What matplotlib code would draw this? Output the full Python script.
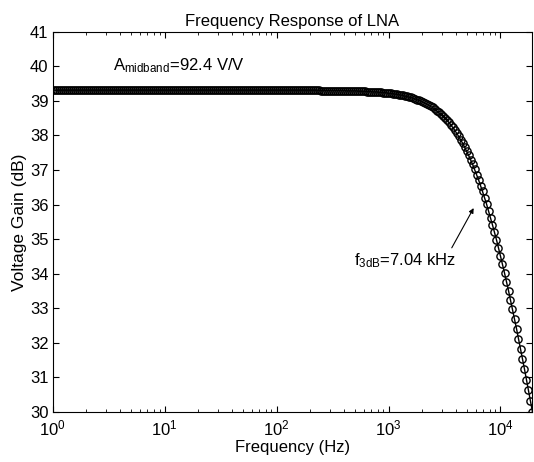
import matplotlib
matplotlib.use("Agg")
import matplotlib.pyplot as plt
from matplotlib.ticker import LogLocator, NullFormatter, MultipleLocator

plt.rcParams['font.family'] = ['Liberation Sans', 'DejaVu Sans']
plt.rcParams['mathtext.default'] = 'regular'

# sample points: 56 per decade (mantissas)
freq_mant = [1.000, 1.042, 1.086, 1.131, 1.179, 1.228, 1.280, 1.334, 1.390, 1.448,
             1.509, 1.572, 1.638, 1.707, 1.778, 1.853, 1.931, 2.012, 2.096, 2.184,
             2.276, 2.371, 2.471, 2.574, 2.683, 2.795, 2.913, 3.035, 3.162, 3.295,
             3.433, 3.577, 3.728, 3.884, 4.047, 4.217, 4.394, 4.578, 4.771, 4.971,
             5.179, 5.397, 5.623, 5.859, 6.105, 6.362, 6.629, 6.907, 7.197, 7.499,
             7.814, 8.142, 8.483, 8.839, 9.210, 9.597]
decades = [1, 10, 100, 1000, 10000]

# voltage gain (dB) per decade
gain_1_10 = [39.31] * 56
gain_10_100 = [39.31] * 56
gain_100_1k = [39.31, 39.31, 39.31, 39.31, 39.31, 39.31, 39.31, 39.31, 39.31, 39.31,
               39.31, 39.31, 39.31, 39.31, 39.31, 39.31, 39.31, 39.31, 39.31, 39.31,
               39.31, 39.31, 39.30, 39.30, 39.30, 39.30, 39.30, 39.30, 39.30, 39.30,
               39.30, 39.30, 39.30, 39.30, 39.30, 39.29, 39.29, 39.29, 39.29, 39.29,
               39.29, 39.28, 39.28, 39.28, 39.28, 39.27, 39.27, 39.27, 39.26, 39.26,
               39.26, 39.25, 39.25, 39.24, 39.24, 39.23]
gain_1k_10k = [39.22, 39.22, 39.21, 39.20, 39.19, 39.18, 39.17, 39.16, 39.14, 39.13,
               39.11, 39.10, 39.08, 39.06, 39.04, 39.02, 39.00, 38.97, 38.94, 38.91,
               38.88, 38.84, 38.81, 38.77, 38.72, 38.67, 38.62, 38.57, 38.51, 38.45,
               38.39, 38.31, 38.24, 38.16, 38.07, 37.98, 37.88, 37.78, 37.67, 37.55,
               37.43, 37.30, 37.17, 37.02, 36.87, 36.72, 36.55, 36.38, 36.20, 36.02,
               35.82, 35.62, 35.41, 35.20, 34.98, 34.75]
gain_10k_up = [34.51, 34.27, 34.02, 33.77, 33.51, 33.24, 32.97, 32.69, 32.41, 32.12,
               31.83, 31.54, 31.24, 30.93, 30.63, 30.32, 30.00]

gain = gain_1_10 + gain_10_100 + gain_100_1k + gain_1k_10k + gain_10k_up
freq = [m * d for d in decades for m in freq_mant][:len(gain)]

fig = plt.figure(figsize=(5.34, 4.62), dpi=100)
ax = fig.add_axes([0.0987, 0.1082, 0.897, 0.823])

ax.semilogx(freq, gain, '-', color='black', linewidth=1.0)
ax.semilogx(freq, gain, 'o', markerfacecolor='none', markeredgecolor='black',
            markersize=5.2, markeredgewidth=1.0)

ax.set_xlim(1, 1.9e4)
ax.set_ylim(30, 41)
ax.yaxis.set_major_locator(MultipleLocator(1))
ax.xaxis.set_major_locator(LogLocator(base=10))
ax.xaxis.set_minor_locator(LogLocator(base=10, subs=range(2, 10)))
ax.xaxis.set_minor_formatter(NullFormatter())
ax.tick_params(which='both', direction='in', top=True, right=True, labelsize=12)
ax.tick_params(which='major', length=4.5)
ax.tick_params(which='minor', length=2.5)
ax.tick_params(axis='x', which='major', pad=5)
ax.tick_params(axis='y', which='major', pad=3)

ax.set_title('Frequency Response of LNA', fontsize=12, pad=4)
ax.set_xlabel('Frequency (Hz)', fontsize=12, labelpad=1)
ax.set_ylabel('Voltage Gain (dB)', fontsize=12.5, labelpad=2)

ax.text(3.44, 39.89, r'A$_{midband}$=92.4 V/V', fontsize=12)
ax.text(492, 34.25, r'f$_{3dB}$=7.04 kHz', fontsize=12)
ax.annotate('', xy=(5757, 35.9), xytext=(3670, 34.75),
            arrowprops=dict(arrowstyle='-|>', color='black', lw=0.8,
                            mutation_scale=7, shrinkA=0, shrinkB=0))

fig.savefig('out.png', dpi=100)
